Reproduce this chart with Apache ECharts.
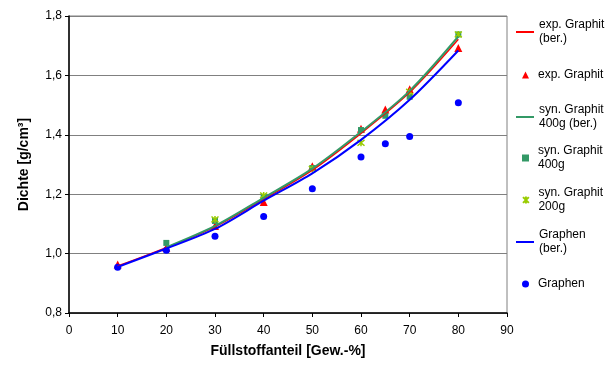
<!DOCTYPE html>
<html>
<head>
<meta charset="utf-8">
<script src="https://cdn.jsdelivr.net/npm/echarts@6/dist/echarts.min.js"></script>
<style>
  html, body { margin: 0; padding: 0; background: #fff; }
  #chart { width: 609px; height: 365px; }
</style>
</head>
<body>
<div id="chart"></div>
<script>
// Measured densities (g/cm³) against filler content (wt.-%)
const expX = [10, 20, 30, 40, 50, 60, 65, 70, 80];
const expVals = [0.963, 1.020, 1.093, 1.174, 1.294, 1.420, 1.485, 1.553, 1.692];

const syn400X = [20, 30, 40, 50, 60, 65, 70, 80];
const syn400Vals = [1.036, 1.110, 1.190, 1.288, 1.416, 1.464, 1.528, 1.738];

const syn200X = [30, 40, 50, 60, 70, 80];
const syn200Vals = [1.115, 1.196, 1.285, 1.373, 1.545, 1.738];

const graphenX = [10, 20, 30, 40, 50, 60, 65, 70, 80];
const graphenVals = [0.954, 1.011, 1.058, 1.125, 1.218, 1.325, 1.370, 1.394, 1.508];

// Calculated densities (mixing rule)
const calcX = [10, 20, 30, 40, 50, 60, 70, 80];
const expCalc = [0.958, 1.020, 1.090, 1.183, 1.281, 1.405, 1.543, 1.722];
const syn400CalcX = [20, 30, 40, 50, 60, 70, 80];
const syn400Calc = [1.021, 1.093, 1.188, 1.286, 1.410, 1.548, 1.731];
const graphenCalc = [0.955, 1.017, 1.083, 1.178, 1.270, 1.383, 1.518, 1.684];

const xTicks = { min: 0, max: 90, step: 10 };
const yTicks = { min: 0.8, max: 1.8, step: 0.2 };

const seriesNames = [
  'exp. Graphit\n(ber.)',
  'exp. Graphit',
  'syn. Graphit\n400g (ber.)',
  'syn. Graphit\n400g',
  'syn. Graphit\n200g',
  'Graphen\n(ber.)',
  'Graphen'
];

const pairs = (xs, ys) => xs.map((x, i) => [x, ys[i]]);
const FONT = 'Liberation Sans';
// asterisk marker: X with a vertical bar, drawn as strokes
const STAR = 'path://M0,0L10,10M10,0L0,10M5,-1L5,11';

const chart = echarts.init(document.getElementById('chart'), null, { renderer: 'canvas' });

// one legend block per entry, stacked down the right margin
const legendCenters = [32, 75, 117, 158, 200, 242, 284];
const legends = seriesNames.map((name, i) => {
  const twoLine = name.indexOf('\n') >= 0;
  const isLine = name.indexOf('(ber.)') >= 0;
  const lh = 14;
  const textH = twoLine ? lh * 3 : lh;
  const legend = {
    data: [name],
    orient: 'vertical',
    left: isLine ? 516 : 522,
    top: legendCenters[i] - textH / 2,
    padding: 0,
    itemWidth: isLine ? 18 : 7,
    itemHeight: isLine ? 2 : 7,
    itemGap: 0,
    textStyle: {
      fontFamily: FONT,
      fontSize: 12,
      color: '#000',
      lineHeight: lh,
      padding: [twoLine ? lh : 0, 0, 0, isLine ? 0 : 4]
    }
  };
  if (isLine) legend.icon = 'rect';
  return legend;
});

chart.setOption({
  animation: false,
  backgroundColor: '#fff',
  grid: {
    left: 69, top: 16, right: 102, bottom: 52,
    show: true, borderColor: '#808080', borderWidth: 1, backgroundColor: 'transparent'
  },
  legend: legends,
  xAxis: {
    type: 'value',
    min: xTicks.min, max: xTicks.max, interval: xTicks.step,
    name: 'Füllstoffanteil [Gew.-%]',
    nameLocation: 'middle',
    nameGap: 31,
    nameTextStyle: { fontFamily: FONT, fontSize: 14, fontWeight: 'bold', color: '#000' },
    axisLine: { show: true, onZero: false, lineStyle: { color: '#000', width: 1.5 } },
    axisTick: { show: true, inside: false, length: 4, lineStyle: { color: '#000', width: 1 } },
    axisLabel: { fontFamily: FONT, fontSize: 12, color: '#000', margin: 12 },
    splitLine: { show: false }
  },
  yAxis: {
    type: 'value',
    min: yTicks.min, max: yTicks.max, interval: yTicks.step,
    name: 'Dichte [g/cm³]',
    nameLocation: 'middle',
    nameGap: 38,
    nameTextStyle: { fontFamily: FONT, fontSize: 14, fontWeight: 'bold', color: '#000' },
    axisLine: { show: true, onZero: false, lineStyle: { color: '#000', width: 1.5 } },
    axisTick: { show: true, inside: false, length: 4, lineStyle: { color: '#000', width: 1 } },
    axisLabel: {
      fontFamily: FONT, fontSize: 12, color: '#000', margin: 7,
      formatter: v => v.toFixed(1).replace('.', ',')
    },
    splitLine: { show: true, lineStyle: { color: '#808080', width: 1 } }
  },
  series: [
    {
      name: seriesNames[0], type: 'line', smooth: 0.3, symbol: 'none',
      data: pairs(calcX, expCalc),
      lineStyle: { color: '#ff0000', width: 1.5 }, itemStyle: { color: '#ff0000' }
    },
    {
      name: seriesNames[1], type: 'scatter', symbol: 'triangle', symbolSize: 8,
      data: pairs(expX, expVals),
      itemStyle: { color: '#ff0000', opacity: 1 }
    },
    {
      name: seriesNames[2], type: 'line', smooth: 0.3, symbol: 'none',
      data: pairs(syn400CalcX, syn400Calc),
      lineStyle: { color: '#339966', width: 2 }, itemStyle: { color: '#339966' }
    },
    {
      name: seriesNames[3], type: 'scatter', symbol: 'rect', symbolSize: 6,
      data: pairs(syn400X, syn400Vals),
      itemStyle: { color: '#339966', opacity: 1 }
    },
    {
      name: seriesNames[4], type: 'scatter', symbol: STAR, symbolSize: 7,
      data: pairs(syn200X, syn200Vals),
      itemStyle: { color: 'rgba(153,204,0,0)', borderColor: '#99cc00', borderWidth: 1.5, opacity: 1 }
    },
    {
      name: seriesNames[5], type: 'line', smooth: 0.3, symbol: 'none',
      data: pairs(calcX, graphenCalc),
      lineStyle: { color: '#0000ff', width: 2 }, itemStyle: { color: '#0000ff' }
    },
    {
      name: seriesNames[6], type: 'scatter', symbol: 'circle', symbolSize: 7,
      data: pairs(graphenX, graphenVals),
      itemStyle: { color: '#0000ff', opacity: 1 }
    }
  ]
});
</script>
</body>
</html>
